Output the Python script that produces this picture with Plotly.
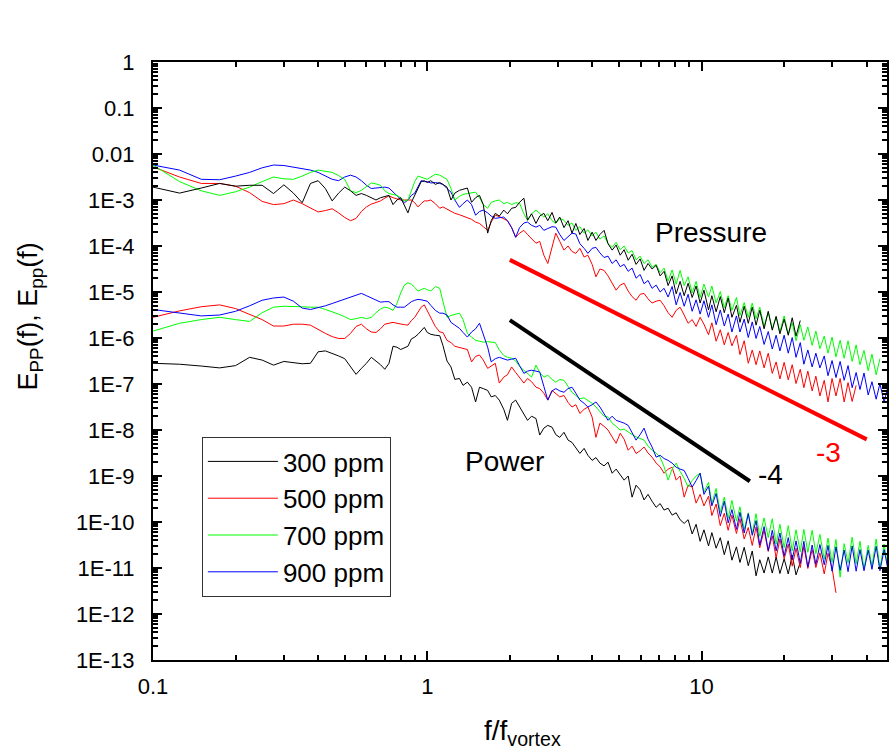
import plotly.graph_objects as go

FONT = "Liberation Sans, Arial, sans-serif"

# frequency grid f/f_vortex (shared by all curves)
freq = [0.1, 0.125, 0.15, 0.175, 0.2, 0.225, 0.25, 0.275, 0.3, 0.325, 0.35, 0.375,
        0.4, 0.425, 0.45, 0.475, 0.5, 0.525, 0.55, 0.575, 0.6, 0.625, 0.65, 0.675,
        0.7, 0.725, 0.75, 0.775, 0.8, 0.825, 0.85, 0.875, 0.9, 0.925, 0.95, 0.975,
        1.00, 1.03, 1.07, 1.11, 1.14, 1.18, 1.22, 1.26, 1.31, 1.35, 1.40, 1.45, 1.50, 1.55,
        1.60, 1.66, 1.71, 1.77, 1.83, 1.90,
        1.96, 2.03, 2.10, 2.17, 2.25, 2.32, 2.40, 2.49, 2.57, 2.66,
        2.75, 2.85, 2.94, 3.04, 3.15, 3.26, 3.37, 3.48, 3.60, 3.73,
        3.85, 3.99, 4.12, 4.26, 4.41, 4.56, 4.72, 4.88, 5.05, 5.22,
        5.40, 5.58, 5.77, 5.97, 6.17, 6.38, 6.60, 6.83, 7.06, 7.30,
        7.55, 7.81, 8.08, 8.35, 8.64, 8.93, 9.24, 9.55, 9.88, 10.2,
        10.6, 10.9, 11.3, 11.7, 12.1, 12.5, 12.9, 13.4, 13.8, 14.3,
        14.8, 15.3, 15.8, 16.3, 16.9, 17.5, 18.1, 18.7, 19.3, 20.0,
        20.7, 21.4, 22.1, 22.9, 23.6, 24.4, 25.3, 26.1, 27.0, 28.0,
        28.9, 29.9, 30.9, 32.0, 33.1, 34.2, 35.4, 36.6, 37.8, 39.1,
        40.5, 41.8, 43.3, 44.7, 46.3, 47.8]

# ---- pressure spectra, log10(E_PP) ----
pressure_300_log10 = [
    -2.72, -2.85, -2.74, -2.64, -2.70, -2.68, -2.68, -2.86, -2.67, -2.85, -3.06, -2.64,
    -2.58, -2.75, -3.02, -2.85, -2.72, -2.80, -2.90, -2.86, -2.90, -2.96, -3.00, -2.95,
    -2.93, -2.90, -3.10, -3.00, -2.95, -3.10, -3.28, -3.05, -2.88, -2.75, -2.60, -2.58,
    -2.62, -2.58, -2.66, -2.62, -2.66, -2.72, -3.00, -2.85, -2.79, -2.76, -2.74, -3.05, -2.95, -2.90,
    -3.10, -3.72, -3.45, -3.29, -3.35, -3.22,
    -3.30, -3.18, -3.16, -3.05, -2.96, -3.44, -3.30, -3.51, -3.35, -3.29,
    -3.45, -3.27, -3.50, -3.37, -3.60, -3.45, -3.72, -3.51, -3.75, -3.62,
    -3.88, -3.70, -3.88, -3.75, -3.66, -3.95, -4.09, -3.98, -4.20, -4.08,
    -4.31, -4.18, -4.40, -4.28, -4.53, -4.38, -4.50, -4.42, -4.65, -4.55,
    -4.86, -4.65, -5.04, -4.77, -5.08, -4.81, -5.12, -4.87, -5.24, -4.96,
    -5.39, -5.08, -5.43, -5.10, -5.45, -5.13, -5.55, -5.29, -5.66, -5.31,
    -5.68, -5.33, -5.72, -5.40, -5.80, -5.42, -5.83, -5.53, -5.91, -5.59,
    -5.94, -5.56, -5.96, -5.62]

pressure_500_log10 = [
    -2.28, -2.50, -2.64, -2.64, -2.70, -2.84, -3.03, -3.10, -3.08, -3.00, -3.08, -3.18,
    -3.26, -3.23, -3.19, -3.28, -3.38, -3.45, -3.40, -3.25, -3.15, -3.09, -3.05, -3.02,
    -2.96, -2.91, -2.95, -2.98, -3.00, -3.00, -3.00, -3.00, -3.06, -3.15, -3.08, -3.02,
    -3.02, -3.00, -3.08, -3.18, -3.15, -3.20, -3.25, -3.29, -3.32, -3.35, -3.37, -3.42, -3.48, -3.51,
    -3.58, -3.66, -3.48, -3.33, -3.36, -3.40,
    -3.45, -3.60, -3.81, -3.72, -3.66, -3.75, -3.85, -3.94, -3.90, -4.20,
    -4.38, -4.00, -3.72, -3.90, -4.09, -4.00, -4.12, -4.16, -4.05, -4.24,
    -4.20, -4.40, -4.67, -4.50, -4.53, -4.65, -4.80, -4.96, -4.85, -4.81,
    -4.98, -5.10, -5.18, -5.05, -5.03, -5.15, -5.24, -5.20, -5.18, -5.30,
    -5.45, -5.55, -5.40, -5.33, -5.50, -5.68, -5.60, -5.75, -5.55, -5.70,
    -5.93, -5.67, -6.07, -5.82, -6.15, -5.88, -6.17, -5.94, -6.36, -6.06,
    -6.55, -6.26, -6.58, -6.28, -6.65, -6.33, -6.77, -6.52, -6.89, -6.53,
    -6.91, -6.58, -6.99, -6.68, -7.08, -6.72, -7.15, -6.83, -7.26, -6.92,
    -7.39, -6.88, -7.26, -6.88, -7.39, -6.97, -7.38, -7.03]

pressure_700_log10 = [
    -2.24, -2.60, -2.80, -2.90, -2.82, -2.72, -2.60, -2.50, -2.54, -2.55, -2.48, -2.40,
    -2.35, -2.37, -2.40, -2.47, -2.55, -2.80, -2.84, -2.79, -2.70, -2.63, -2.65, -2.68,
    -2.80, -2.86, -2.88, -2.90, -2.95, -3.02, -3.00, -2.80, -2.60, -2.48, -2.50, -2.53,
    -2.55, -2.50, -2.44, -2.46, -2.50, -2.55, -2.75, -3.00, -2.92, -2.88, -2.86, -2.84, -2.83, -2.95,
    -3.10, -3.18, -3.05, -3.02, -3.00, -3.08,
    -3.05, -3.10, -3.06, -3.07, -3.30, -3.44, -3.30, -3.22, -3.30, -3.37,
    -3.30, -3.45, -3.51, -3.40, -3.44, -3.55, -3.50, -3.66, -3.58, -3.72,
    -3.65, -3.78, -3.70, -3.85, -3.78, -3.95, -4.03, -3.92, -4.08, -4.00,
    -4.15, -4.10, -4.30, -4.22, -4.38, -4.30, -4.46, -4.40, -4.58, -4.48,
    -4.76, -4.52, -4.83, -4.53, -4.86, -4.67, -5.02, -4.77, -5.12, -4.83,
    -5.11, -4.87, -5.24, -4.99, -5.34, -5.08, -5.40, -5.12, -5.51, -5.23,
    -5.55, -5.24, -5.58, -5.33, -5.74, -5.44, -5.80, -5.54, -5.86, -5.52,
    -5.92, -5.67, -6.06, -5.71, -6.05, -5.76, -6.16, -5.85, -6.23, -5.96,
    -6.33, -5.98, -6.41, -6.05, -6.44, -6.06, -6.51, -6.15, -6.58, -6.27,
    -6.71, -6.35, -6.80, -6.45]

pressure_900_log10 = [
    -2.24, -2.35, -2.55, -2.56, -2.48, -2.40, -2.30, -2.24, -2.25, -2.28, -2.31, -2.35,
    -2.40, -2.48, -2.55, -2.58, -2.50, -2.46, -2.50, -2.58, -2.68, -2.75, -2.74, -2.73,
    -2.72, -2.74, -2.82, -2.90, -2.98, -3.06, -3.00, -2.90, -2.85, -2.72, -2.58, -2.60,
    -2.60, -2.63, -2.62, -2.64, -2.66, -2.75, -2.83, -3.00, -3.16, -3.08, -3.00, -3.10, -3.33, -3.25,
    -3.22, -3.28, -3.35, -3.40, -3.38, -3.37,
    -3.45, -3.60, -3.81, -3.60, -3.50, -3.48, -3.55, -3.59, -3.55, -3.66,
    -3.62, -3.58, -3.59, -3.75, -3.88, -3.80, -3.72, -3.74, -3.95, -4.05,
    -4.16, -4.05, -4.03, -4.15, -4.25, -4.22, -4.38, -4.30, -4.45, -4.40,
    -4.55, -4.48, -4.70, -4.62, -4.82, -4.75, -4.92, -4.85, -5.00, -4.92,
    -5.11, -4.88, -5.28, -5.01, -5.31, -5.05, -5.42, -5.17, -5.48, -5.19,
    -5.55, -5.28, -5.71, -5.39, -5.74, -5.48, -5.87, -5.52, -5.87, -5.59,
    -5.99, -5.65, -6.01, -5.75, -6.14, -5.86, -6.24, -5.94, -6.28, -5.94,
    -6.33, -5.99, -6.42, -6.10, -6.57, -6.26, -6.63, -6.33, -6.65, -6.39,
    -6.82, -6.49, -6.86, -6.51, -6.92, -6.60, -7.08, -6.75, -7.12, -6.76,
    -7.24, -6.95, -7.33, -6.99, -7.40, -7.04]

# ---- power spectra, log10(E_pp) ----
power_300_log10 = [
    -6.55, -6.57, -6.61, -6.65, -6.60, -6.42, -6.48, -6.59, -6.51, -6.53, -6.56, -6.55,
    -6.30, -6.28, -6.33, -6.39, -6.45, -6.62, -6.79, -6.66, -6.55, -6.42, -6.50, -6.58,
    -6.68, -6.55, -6.18, -6.20, -6.25, -6.22, -6.18, -6.02, -5.98, -5.92, -5.85, -5.77,
    -5.88, -5.92, -5.94, -5.95, -6.16, -6.50, -6.63, -6.90, -6.88, -7.03, -6.96, -7.07, -7.39, -7.07,
    -7.10, -7.14, -7.28, -7.25, -7.35, -7.55,
    -7.79, -7.42, -7.35, -7.50, -7.64, -7.79, -7.70, -7.75, -8.11, -7.96,
    -7.90, -7.94, -8.10, -8.16, -8.05, -8.22, -8.27, -8.40, -8.51, -8.40,
    -8.55, -8.66, -8.60, -8.72, -8.78, -8.70, -8.94, -8.85, -8.98, -9.09,
    -9.00, -9.46, -9.20, -9.30, -9.52, -9.40, -9.55, -9.68, -9.60, -9.74,
    -9.70, -9.85, -9.80, -9.95, -10.03, -9.95, -10.26, -10.05, -10.42, -10.17,
    -10.52, -10.23, -10.57, -10.34, -10.71, -10.41, -10.83, -10.54, -10.88, -10.55,
    -10.95, -10.63, -11.17, -10.82, -11.11, -10.76, -11.11, -10.76, -11.12, -10.80,
    -11.13, -10.72, -11.15, -10.88]

power_500_log10 = [
    -5.55, -5.41, -5.32, -5.28, -5.36, -5.48, -5.60, -5.74, -5.74, -5.70, -5.70, -5.72,
    -5.82, -5.90, -5.97, -6.01, -6.01, -5.90, -5.75, -5.70, -5.80, -5.87, -5.88, -5.80,
    -5.70, -5.68, -5.66, -5.68, -5.70, -5.71, -5.72, -5.62, -5.55, -5.45, -5.33, -5.28,
    -5.40, -5.55, -5.75, -5.87, -5.88, -6.05, -6.10, -6.18, -6.20, -6.22, -6.25, -6.52, -6.40, -6.37,
    -6.48, -6.66, -6.60, -6.55, -6.98, -6.85,
    -6.80, -6.63, -6.75, -6.85, -6.98, -6.88, -6.95, -7.07, -7.10, -7.20,
    -7.35, -7.14, -7.20, -7.28, -7.25, -7.40, -7.50, -7.45, -7.64, -7.55,
    -7.50, -7.72, -8.16, -7.85, -7.92, -8.00, -8.15, -8.29, -8.07, -8.20,
    -8.44, -8.35, -8.51, -8.45, -8.37, -8.50, -8.59, -8.72, -8.80, -8.94,
    -8.85, -8.81, -9.09, -9.00, -9.46, -9.20, -9.24, -9.59, -9.40, -9.65,
    -9.44, -9.86, -9.61, -10.08, -9.81, -10.18, -9.85, -10.25, -9.93, -10.37,
    -10.12, -10.51, -10.11, -10.56, -10.18, -10.64, -10.30, -10.78, -10.37, -10.80,
    -10.48, -10.96, -10.57, -10.99, -10.53, -11.01, -10.60, -10.99, -10.67, -11.13,
    -10.68, -11.00, -11.54]

power_700_log10 = [
    -5.85, -5.68, -5.60, -5.55, -5.60, -5.64, -5.45, -5.33, -5.31, -5.31, -5.32, -5.33,
    -5.33, -5.38, -5.43, -5.48, -5.54, -5.60, -5.58, -5.55, -5.58, -5.55, -5.45, -5.37,
    -5.33, -5.35, -5.40, -5.25, -5.02, -4.85, -4.80, -4.83, -4.90, -4.98, -4.95, -4.92,
    -4.95, -4.98, -4.88, -4.92, -5.20, -5.55, -5.51, -5.48, -5.46, -5.60, -5.90, -5.98, -6.05, -6.07,
    -6.09, -6.08, -6.09, -6.10, -6.26, -6.38,
    -6.42, -6.44, -6.50, -6.62, -6.70, -6.78, -6.85, -6.59, -6.75, -6.85,
    -6.81, -6.90, -6.96, -6.90, -6.92, -7.05, -7.18, -7.25, -7.32, -7.30,
    -7.35, -7.42, -7.50, -7.60, -7.70, -7.72, -7.85, -7.92, -8.00, -7.98,
    -8.05, -8.10, -8.15, -8.18, -8.22, -8.35, -8.44, -8.50, -8.59, -8.80,
    -9.09, -8.85, -8.72, -8.90, -9.05, -9.24, -9.10, -9.00, -8.94, -9.35,
    -9.14, -9.60, -9.27, -9.79, -9.46, -9.92, -9.53, -9.98, -9.67, -10.16,
    -9.80, -10.25, -9.82, -10.31, -9.91, -10.34, -9.93, -10.48, -10.05, -10.56,
    -10.08, -10.63, -10.17, -10.65, -10.16, -10.66, -10.18, -10.69, -10.27, -10.81,
    -10.35, -10.88, -10.38, -11.20, -10.47, -10.89, -10.33, -10.91, -10.42, -11.01,
    -10.51, -10.95, -10.37, -11.00, -10.48, -11.02]

power_900_log10 = [
    -5.38, -5.46, -5.52, -5.50, -5.42, -5.30, -5.18, -5.13, -5.11, -5.20, -5.35, -5.38,
    -5.34, -5.30, -5.25, -5.20, -5.15, -5.11, -5.07, -5.03, -5.08, -5.13, -5.18, -5.22,
    -5.21, -5.21, -5.28, -5.33, -5.33, -5.33, -5.27, -5.21, -5.18, -5.16, -5.17, -5.18,
    -5.20, -5.29, -5.40, -5.46, -5.46, -5.50, -5.66, -5.72, -5.79, -5.88, -5.98, -5.87, -5.80, -5.68,
    -5.90, -6.20, -6.52, -6.45, -6.42, -6.46,
    -6.48, -6.46, -6.44, -6.60, -6.77, -6.72, -6.70, -6.72, -6.74, -7.05,
    -7.35, -7.15, -7.10, -7.15, -7.18, -7.10, -7.07, -7.20, -7.35, -7.42,
    -7.50, -7.45, -7.39, -7.50, -7.65, -7.79, -7.70, -7.79, -7.82, -7.85,
    -7.90, -8.05, -8.22, -8.10, -7.96, -8.20, -8.37, -8.59, -8.55, -8.62,
    -8.66, -8.72, -8.81, -8.85, -8.88, -9.05, -9.24, -9.10, -8.94, -9.40,
    -9.22, -9.65, -9.38, -9.88, -9.55, -10.02, -9.73, -10.16, -9.79, -10.24,
    -9.82, -10.29, -9.97, -10.50, -10.10, -10.62, -10.18, -10.63, -10.24, -10.74,
    -10.34, -10.82, -10.41, -10.90, -10.42, -10.98, -10.50, -10.92, -10.49, -10.93,
    -10.51, -11.07, -10.54, -11.05, -10.61, -11.08, -10.52, -11.07, -10.60, -11.06,
    -10.61, -11.03, -10.53, -11.06, -10.60, -11.03]

# reference slope lines (endpoints)
slope3_x = [2.0, 40.0]
slope3_y = [5.0e-5, 6.25e-9]
slope4_x = [2.0, 15.0]
slope4_y = [2.45e-6, 7.7e-10]

labels = ["300 ppm", "500 ppm", "700 ppm", "900 ppm"]
colors = ["#000000", "#ff0000", "#00ff00", "#0000ff"]

y_tickvals = [1, 0.1, 0.01, 1e-3, 1e-4, 1e-5, 1e-6, 1e-7, 1e-8, 1e-9, 1e-10, 1e-11, 1e-12, 1e-13]
y_ticktext = ["1", "0.1", "0.01", "1E-3", "1E-4", "1E-5", "1E-6", "1E-7", "1E-8", "1E-9",
              "1E-10", "1E-11", "1E-12", "1E-13"]
x_tickvals = [0.1, 1, 10]
x_ticktext = ["0.1", "1", "10"]


def lin(vals):
    return [10 ** v for v in vals]


fig = go.Figure()

power = [power_300_log10, power_500_log10, power_700_log10, power_900_log10]
pressure = [pressure_300_log10, pressure_500_log10, pressure_700_log10, pressure_900_log10]

for i, vals in enumerate(power):
    fig.add_trace(go.Scatter(x=freq[:len(vals)], y=lin(vals), mode="lines",
                             line=dict(color=colors[i], width=1), name=labels[i],
                             legendgroup=labels[i], showlegend=True))

for i in [1, 3, 2, 0]:
    vals = pressure[i]
    fig.add_trace(go.Scatter(x=freq[:len(vals)], y=lin(vals), mode="lines",
                             line=dict(color=colors[i], width=1), name=labels[i],
                             legendgroup=labels[i], showlegend=False))

fig.add_trace(go.Scatter(x=slope3_x, y=slope3_y, mode="lines",
                         line=dict(color="#ff0000", width=4), showlegend=False))
fig.add_trace(go.Scatter(x=slope4_x, y=slope4_y, mode="lines",
                         line=dict(color="#000000", width=4), showlegend=False))

x_minor = [k * 10.0 ** e for e in (-1, 0, 1) for k in range(2, 10) if k * 10.0 ** e < 48]
y_minor = [k * 10.0 ** e for e in range(-13, 0) for k in range(2, 10)]

axis_common = dict(type="log", showgrid=False, zeroline=False, showline=True,
                   linecolor="black", linewidth=2, mirror="allticks",
                   ticks="inside", ticklen=9, tickwidth=2, tickcolor="black",
                   tickfont=dict(family=FONT, size=22, color="black"))

fig.update_xaxes(**axis_common, range=[-1, 1.676], tickmode="array",
                 tickvals=x_tickvals, ticktext=x_ticktext, ticklabelstandoff=6,
                 minor=dict(tickmode="array", tickvals=x_minor, ticks="inside",
                            ticklen=5, tickwidth=1.5, tickcolor="black", showgrid=False))
fig.update_yaxes(**axis_common, range=[-13, 0], tickmode="array",
                 tickvals=y_tickvals, ticktext=y_ticktext, ticklabelstandoff=12,
                 minor=dict(tickmode="array", tickvals=y_minor, ticks="inside",
                            ticklen=5, tickwidth=1.5, tickcolor="black", showgrid=False))

ann_font = dict(family=FONT, size=28, color="black")
fig.add_annotation(x=1.0327, y=-3.70, xref="x", yref="y", text="Pressure",
                   showarrow=False, font=ann_font)
fig.add_annotation(x=0.28, y=-8.68, xref="x", yref="y", text="Power",
                   showarrow=False, font=ann_font)
fig.add_annotation(x=1.251, y=-8.96, xref="x", yref="y", text="-4",
                   showarrow=False, font=ann_font)
fig.add_annotation(x=1.462, y=-8.48, xref="x", yref="y", text="-3",
                   showarrow=False, font=dict(family=FONT, size=28, color="#ff0000"))
# axis titles
fig.add_annotation(x=-0.167, y=0.575, xref="paper", yref="paper",
                   xanchor="center", yanchor="middle",
                   text="E<sub>PP</sub>(f), E<sub>pp</sub>(f)", textangle=-90,
                   showarrow=False, font=dict(family=FONT, size=27, color="black"))
fig.add_annotation(x=0.503, y=-0.121, xref="paper", yref="paper",
                   xanchor="center", yanchor="middle",
                   text="f/f<sub>vortex</sub>", showarrow=False,
                   font=dict(family=FONT, size=28, color="black"))

fig.update_layout(
    width=890, height=750,
    margin=dict(l=153, r=1, t=62, b=90),
    paper_bgcolor="white", plot_bgcolor="white",
    font=dict(family=FONT, color="black"),
    legend=dict(x=0.0666, y=0.3729, xanchor="left", yanchor="top",
                bgcolor="white", bordercolor="#333333", borderwidth=1,
                font=dict(family=FONT, size=26, color="black"),
                itemwidth=70, tracegroupgap=0, traceorder="normal"),
)

fig.write_html("out.html")
